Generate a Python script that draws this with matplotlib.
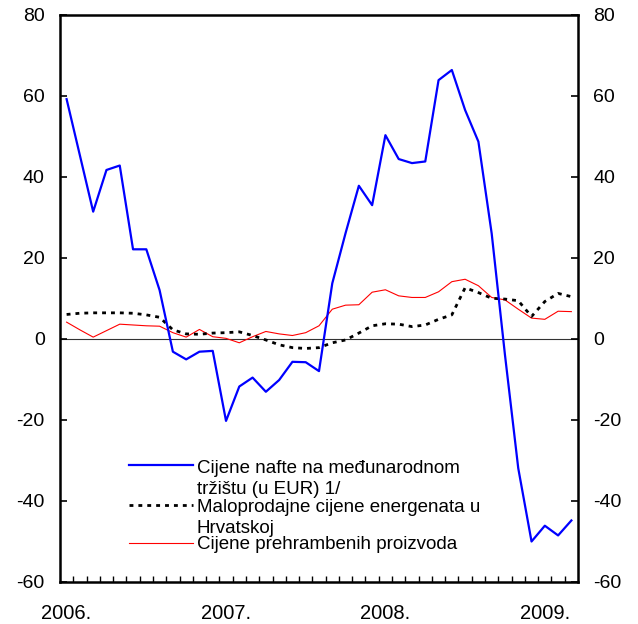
import numpy as np
import matplotlib
matplotlib.use("Agg")
import matplotlib.pyplot as plt

plt.rcParams["font.family"] = ["Liberation Sans", "DejaVu Sans"]
plt.rcParams["axes.unicode_minus"] = False

# monthly data, Jan 2006 - Mar 2009 (annual rates of change, %)
years = ["2006.", "2007.", "2008.", "2009."]
year_pos = [0, 12, 24, 36]

nafta = [59.2, 45.3, 31.4, 41.7, 42.8, 22.1, 22.1, 12.0, -3.2, -5.1,
         -3.2, -3.0, -20.3, -11.8, -9.6, -13.1, -10.2, -5.7, -5.8, -8.0,
         13.7, 26.1, 37.8, 33.0, 50.3, 44.4, 43.4, 43.8, 63.9, 66.4,
         56.5, 48.7, 26.0, -4.0, -32.0, -50.1, -46.2, -48.6, -44.9]

energenti = [6.0, 6.3, 6.4, 6.4, 6.4, 6.3, 5.9, 5.3, 2.2, 1.2,
             1.1, 1.4, 1.5, 1.7, 0.8, -0.3, -1.5, -2.2, -2.4, -2.2,
             -1.0, -0.3, 1.4, 3.2, 3.7, 3.6, 3.0, 3.4, 4.8, 5.9,
             12.6, 11.4, 10.0, 9.8, 9.4, 5.5, 9.2, 11.2, 10.4]

hrana = [4.1, 2.2, 0.4, 2.0, 3.6, 3.4, 3.2, 3.1, 1.5, 0.4,
         2.3, 0.5, 0.1, -1.0, 0.5, 1.8, 1.2, 0.8, 1.5, 3.2,
         7.3, 8.3, 8.4, 11.5, 12.1, 10.6, 10.2, 10.2, 11.6, 14.1,
         14.7, 13.1, 10.2, 9.6, 7.3, 5.1, 4.8, 6.8, 6.7]

labels = [
    ["Cijene nafte na međunarodnom", "tržištu (u EUR) 1/"],
    ["Maloprodajne cijene energenata u", "Hrvatskoj"],
    ["Cijene prehrambenih proizvoda"],
]

x = np.arange(len(nafta))

fig = plt.figure(figsize=(6.38, 6.24), dpi=100)
ax = fig.add_axes([0.094, 0.068, 0.812, 0.908])

ax.axhline(0, color="#333333", lw=0.8, zorder=1)
l1, = ax.plot(x, nafta, color="#0000ff", lw=1.6, zorder=4)
l2, = ax.plot(x, energenti, color="black", lw=2.0, dashes=(1.4, 1.8), zorder=3)
l3, = ax.plot(x, hrana, color="#ff0000", lw=0.8, zorder=2)

ax.set_xlim(-0.5, len(nafta) - 0.5)
ax.set_ylim(-60, 80)
ax.set_yticks(range(-60, 81, 20))
ax.tick_params(axis="y", direction="in", length=5, width=1.2,
               labelsize=14, pad=11, left=True, right=True,
               labelleft=True, labelright=True)

ax.set_xticks(year_pos)
ax.set_xticklabels(years)
ax.set_xticks(np.arange(0.5, len(nafta) - 1, 1), minor=True)
ax.tick_params(axis="x", which="major", length=0, labelsize=14.5, pad=16)
ax.tick_params(axis="x", which="minor", direction="in", length=4.5, width=1.0)

for s in ax.spines.values():
    s.set_linewidth(1.8)

# legend drawn by hand: handle aligned with the first line of each label
handles = [l1, l2, l3]
line_y = [0.205, 0.135, 0.068]
text_y = [[0.191, 0.154], [0.1235, 0.086], [0.0577]]
for h, ly, lab, ty in zip(handles, line_y, labels, text_y):
    ax.plot([0.133, 0.257], [ly, ly], transform=ax.transAxes,
            color=h.get_color(), lw=h.get_linewidth(),
            dashes=(1.4, 1.8) if h is l2 else (None, None), clip_on=False)
    for txt, yy in zip(lab, ty):
        ax.text(0.2645, yy, txt, transform=ax.transAxes, fontsize=13.5,
                va="baseline", ha="left")

fig.savefig("out.png", dpi=100)
